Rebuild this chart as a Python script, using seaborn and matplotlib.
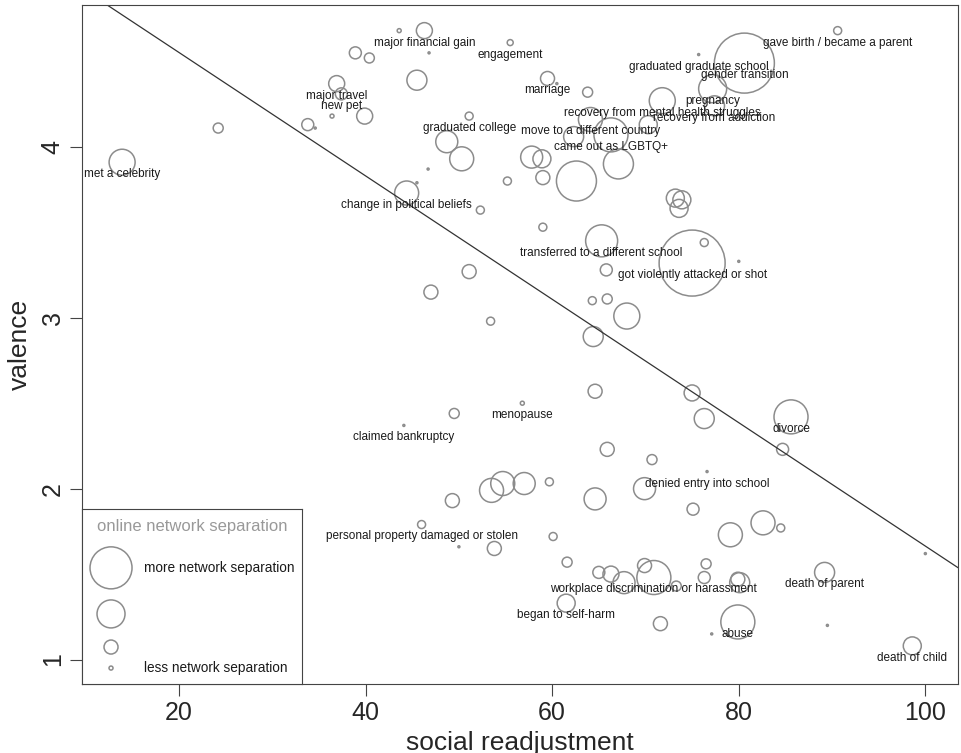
import numpy as np
import pandas as pd
import matplotlib
matplotlib.use('Agg')
import matplotlib.pyplot as plt
import seaborn as sns

# life events: social readjustment vs. valence, circle size = online network separation
events = [
    'met a celebrity', '', '', '', '', 'major travel', 'new pet', '', '', '',
    '', 'major financial gain', '', '', 'engagement', 'marriage', '', '', 'graduated college', '',
    '', '', 'change in political beliefs', '', '', '', '', '', '', '',
    '', 'transferred to a different school', 'recovery from mental health struggles',
    'move to a different country', 'came out as LGBTQ+', '', '', 'pregnancy', 'recovery from addiction', 'gender transition',
    'graduated graduate school', 'gave birth / became a parent', '', '', '', 'got violently attacked or shot', '', '', '', '',
    '', '', '', '', '', '', 'divorce', '', '', '',
    '', 'menopause', '', 'claimed bankruptcy', '', '', 'denied entry into school', '', '', '',
    '', '', '', '', '', '', '', '', 'personal property damaged or stolen', '',
    '', '', '', '', '', '', '', 'workplace discrimination or harassment', '', '',
    '', '', '', 'began to self-harm', '', 'abuse', '', 'death of parent', '', 'death of child',
    '', '',
]
readjustment = [
    13.9, 24.2, 33.8, 34.6, 36.4, 36.9, 37.4, 39.9, 38.9, 40.4,
    43.6, 46.3, 46.8, 45.5, 55.5, 59.5, 60.5, 63.8, 51.1, 48.7,
    50.3, 46.7, 44.4, 45.5, 52.3, 55.2, 59.0, 57.8, 58.9, 59.0,
    62.6, 65.3, 71.8, 64.1, 66.3, 67.1, 70.3, 77.2, 77.4, 80.6,
    75.7, 90.6, 73.2, 73.9, 73.6, 75.0, 76.3, 80.0, 65.8, 64.3,
    65.9, 68.0, 64.4, 64.6, 75.0, 76.3, 85.6, 84.7, 51.1, 47.0,
    53.4, 56.8, 49.5, 44.1, 65.9, 70.7, 76.6, 69.9, 64.6, 49.3,
    53.5, 54.7, 57.0, 59.7, 75.1, 82.6, 84.5, 79.1, 46.0, 50.0,
    53.8, 60.1, 61.6, 65.0, 66.3, 67.7, 69.9, 70.9, 73.3, 76.5,
    76.3, 80.1, 79.9, 61.5, 71.6, 79.9, 77.1, 89.2, 89.5, 98.6,
    100.0, 62.3,
]
valence = [
    3.91, 4.11, 4.13, 4.11, 4.18, 4.37, 4.31, 4.18, 4.55, 4.52,
    4.68, 4.68, 4.55, 4.39, 4.61, 4.40, 4.37, 4.32, 4.18, 4.03,
    3.93, 3.87, 3.73, 3.79, 3.63, 3.80, 3.53, 3.94, 3.93, 3.82,
    3.80, 3.45, 4.27, 4.16, 4.07, 3.90, 4.13, 4.34, 4.24, 4.49,
    4.54, 4.68, 3.70, 3.69, 3.64, 3.32, 3.44, 3.33, 3.28, 3.10,
    3.11, 3.01, 2.89, 2.57, 2.56, 2.41, 2.42, 2.23, 3.27, 3.15,
    2.98, 2.50, 2.44, 2.37, 2.23, 2.17, 2.10, 2.00, 1.94, 1.93,
    1.99, 2.03, 2.03, 2.04, 1.88, 1.80, 1.77, 1.73, 1.79, 1.66,
    1.65, 1.72, 1.57, 1.51, 1.50, 1.45, 1.55, 1.48, 1.43, 1.56,
    1.48, 1.45, 1.47, 1.33, 1.21, 1.22, 1.15, 1.51, 1.20, 1.08,
    1.62, 4.06,
]
separation = [
    1.3, 0.5, 0.6, 0.1, 0.2, 0.8, 0.6, 0.8, 0.6, 0.5,
    0.2, 0.8, 0.1, 1.0, 0.3, 0.7, 0.1, 0.5, 0.4, 1.1,
    1.2, 0.1, 1.2, 0.1, 0.4, 0.4, 0.4, 1.1, 0.9, 0.7,
    2.0, 1.6, 1.3, 1.2, 1.7, 1.5, 0.9, 1.4, 1.0, 3.0,
    0.1, 0.4, 0.9, 0.9, 0.9, 3.3, 0.4, 0.1, 0.6, 0.4,
    0.5, 1.3, 1.0, 0.7, 0.8, 1.0, 1.7, 0.6, 0.7, 0.7,
    0.4, 0.2, 0.5, 0.1, 0.7, 0.5, 0.1, 1.1, 1.1, 0.7,
    1.2, 1.2, 1.1, 0.4, 0.6, 1.2, 0.4, 1.2, 0.4, 0.1,
    0.7, 0.4, 0.5, 0.6, 0.8, 1.1, 0.7, 1.7, 0.5, 0.5,
    0.6, 1.0, 0.7, 0.9, 0.7, 1.7, 0.1, 1.0, 0.1, 0.9,
    0.1, 1.0,
]

# linear fit drawn over the points
fit_intercept = 5.274
fit_slope = -0.0361

legend_levels = [2.1, 1.4, 0.7, 0.2]
legend_labels = ['more network separation', '', '', 'less network separation']

PT_PER_SEP = 14.4  # circle diameter in points per unit of separation
CIRCLE_COLOR = '#8c8c8c'


def size_kws(max_sep):
    # area-linear mapping so that circle radius is proportional to separation
    return dict(sizes=(0, (PT_PER_SEP * max_sep) ** 2), size_norm=(0, max_sep ** 2))


sns.set_style('white')
plt.rcParams['font.family'] = ['Liberation Sans', 'DejaVu Sans']

df = pd.DataFrame({
    'event': events,
    'readjustment': readjustment,
    'valence': valence,
    'separation': separation,
})
df['area'] = df['separation'] ** 2
max_sep = df['separation'].max()

fig = plt.figure(figsize=(9.62, 7.53), dpi=100)
ax = fig.add_axes([82 / 962, (753 - 684) / 753, 876 / 962, 679 / 753])

sns.scatterplot(
    data=df, x='readjustment', y='valence', size='area',
    facecolor='none', edgecolor=CIRCLE_COLOR, linewidth=1.1,
    legend=False, ax=ax, **size_kws(max_sep)
)

for _, row in df[df['event'] != ''].iterrows():
    ax.annotate(row['event'], (row['readjustment'], row['valence']),
                xytext=(0, -8.6), textcoords='offset points',
                ha='center', va='center', fontsize=8.5, color='#1a1a1a')

ax.axline((0, fit_intercept), slope=fit_slope, color='#333333', lw=0.9)

ax.set_xlim(9.6, 103.5)
ax.set_ylim(0.857, 4.83)
ax.set_xticks([20, 40, 60, 80, 100])
ax.set_yticks([1, 2, 3, 4])
ax.tick_params(bottom=True, left=True, direction='out', length=8.5, width=0.8,
               labelsize=18, pad=4, color='#444444')
for lbl in ax.get_yticklabels():
    lbl.set_rotation(90)
    lbl.set_va('center')
ax.set_xlabel('social readjustment', fontsize=19, labelpad=4)
ax.set_ylabel('valence', fontsize=19, labelpad=6)
for sp in ax.spines.values():
    sp.set_visible(True)
    sp.set_color('#444444')
    sp.set_linewidth(0.8)

# legend box in the bottom-left corner
lax = ax.inset_axes([0, 0, 0.251, 0.258])
ldf = pd.DataFrame({
    'x': [0.132] * 4,
    'y': [0.663, 0.40, 0.211, 0.091],
    'area': np.array(legend_levels) ** 2,
})
sns.scatterplot(data=ldf, x='x', y='y', size='area',
                facecolor='none', edgecolor=CIRCLE_COLOR, linewidth=1.1,
                legend=False, ax=lax, **size_kws(max_sep))
lax.set_xlim(0, 1)
lax.set_ylim(0, 1)
lax.set_xticks([])
lax.set_yticks([])
lax.set_xlabel('')
lax.set_ylabel('')
for sp in lax.spines.values():
    sp.set_visible(True)
    sp.set_color('#444444')
    sp.set_linewidth(0.8)
lax.text(0.5, 0.897, 'online network separation', ha='center', va='center',
         fontsize=12, color='#999999')
for yy, lab in zip(ldf['y'], legend_labels):
    lax.text(0.282, yy, lab, ha='left', va='center', fontsize=9.8, color='#1a1a1a')

fig.savefig('out.png', dpi=100)
